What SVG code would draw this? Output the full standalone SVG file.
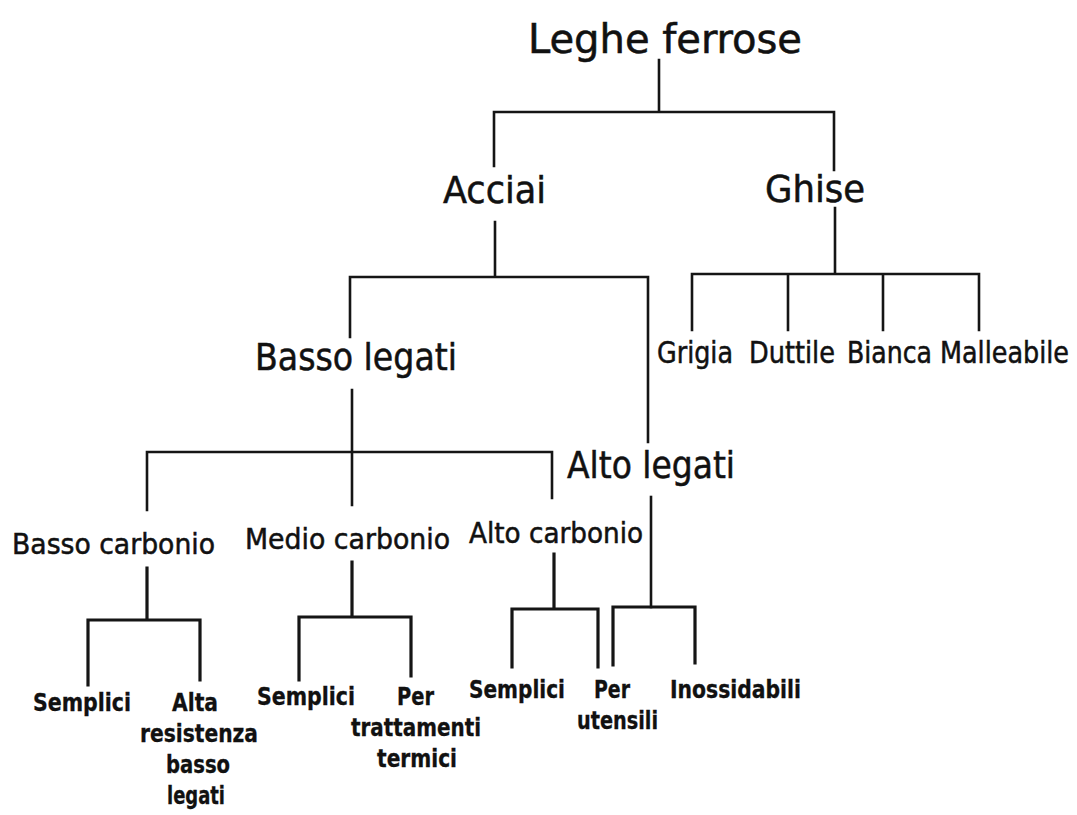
<svg xmlns="http://www.w3.org/2000/svg" width="1077" height="815" viewBox="0 0 1077 815">
<style>
text{font-family:"DejaVu Sans Condensed","DejaVu Sans",sans-serif;fill:#111;stroke:#111;stroke-width:0.5;}
.l1{font-size:40px;}
.l2{font-size:38px;}
.l3{font-size:30px;}
.l4{font-size:29px;}
.lf{font-size:24px;font-weight:bold;stroke-width:0.3;}
.c{fill:none;stroke:#151515;stroke-width:2.6;stroke-linecap:square;}
.c2{fill:none;stroke:#151515;stroke-width:3.2;stroke-linecap:square;}
</style>
<rect width="1077" height="815" fill="#ffffff"/>
<g id="connectors">
<path class="c" d="M659 60V112M494 112H834M494 112V166M834 112V170"/>
<path class="c" d="M495 222V276M350 277H648M350 277V337M648 277V442"/>
<path class="c" d="M835 208V274M692 274H979M692 274V330M788 274V330M883 274V330M979 274V330"/>
<path class="c" d="M352 390V505M147 452H552M147 452V510M552 452V498"/>
<path class="c2" d="M147 568V620M88 620H200M88 620V685M200 620V680"/>
<path class="c2" d="M352 562V617M299 617H411M299 617V680M411 617V676"/>
<path class="c2" d="M554 554V609M512 609H598M512 609V667M598 609V667"/>
<path class="c" d="M651 497V607"/>
<path class="c2" d="M613 607H695M613 607V665M695 607V663"/>
</g>
<g id="leghe-ferrose"><text class="l1" x="528" y="53" textLength="274" lengthAdjust="spacingAndGlyphs">Leghe ferrose</text></g>
<g id="acciai"><text class="l2" x="443" y="203" textLength="103" lengthAdjust="spacingAndGlyphs">Acciai</text></g>
<g id="ghise"><text class="l2" x="765" y="202" textLength="100" lengthAdjust="spacingAndGlyphs">Ghise</text></g>
<g id="basso-legati"><text class="l2" x="255" y="370" textLength="202" lengthAdjust="spacingAndGlyphs">Basso legati</text></g>
<g id="alto-legati"><text class="l2" x="567" y="478" textLength="168" lengthAdjust="spacingAndGlyphs">Alto legati</text></g>
<g id="grigia"><text class="l3" x="657" y="363" textLength="76" lengthAdjust="spacingAndGlyphs">Grigia</text></g>
<g id="duttile"><text class="l3" x="749" y="363" textLength="86" lengthAdjust="spacingAndGlyphs">Duttile</text></g>
<g id="bianca"><text class="l3" x="847" y="363" textLength="85" lengthAdjust="spacingAndGlyphs">Bianca</text></g>
<g id="malleabile"><text class="l3" x="940" y="363" textLength="129" lengthAdjust="spacingAndGlyphs">Malleabile</text></g>
<g id="basso-carbonio"><text class="l4" x="12" y="554" textLength="203" lengthAdjust="spacingAndGlyphs">Basso  carbonio</text></g>
<g id="medio-carbonio"><text class="l4" x="245" y="549" textLength="205" lengthAdjust="spacingAndGlyphs">Medio carbonio</text></g>
<g id="alto-carbonio"><text class="l4" x="469" y="543" textLength="174" lengthAdjust="spacingAndGlyphs">Alto carbonio</text></g>
<g id="semplici-1"><text class="lf" x="33" y="711" textLength="98" lengthAdjust="spacingAndGlyphs">Semplici</text></g>
<g id="alta-resistenza">
<text class="lf" x="172" y="711" textLength="46" lengthAdjust="spacingAndGlyphs">Alta</text>
<text class="lf" x="140" y="742" textLength="118" lengthAdjust="spacingAndGlyphs">resistenza</text>
<text class="lf" x="166" y="773" textLength="64" lengthAdjust="spacingAndGlyphs">basso</text>
<text class="lf" x="167" y="804" textLength="58" lengthAdjust="spacingAndGlyphs">legati</text>
</g>
<g id="semplici-2"><text class="lf" x="257" y="705" textLength="98" lengthAdjust="spacingAndGlyphs">Semplici</text></g>
<g id="per-trattamenti">
<text class="lf" x="397" y="705" textLength="37" lengthAdjust="spacingAndGlyphs">Per</text>
<text class="lf" x="351" y="736" textLength="130" lengthAdjust="spacingAndGlyphs">trattamenti</text>
<text class="lf" x="377" y="767" textLength="80" lengthAdjust="spacingAndGlyphs">termici</text>
</g>
<g id="semplici-3"><text class="lf" x="469" y="698" textLength="96" lengthAdjust="spacingAndGlyphs">Semplici</text></g>
<g id="per-utensili">
<text class="lf" x="594" y="698" textLength="36" lengthAdjust="spacingAndGlyphs">Per</text>
<text class="lf" x="577" y="729" textLength="81" lengthAdjust="spacingAndGlyphs">utensili</text>
</g>
<g id="inossidabili"><text class="lf" x="670" y="698" textLength="131" lengthAdjust="spacingAndGlyphs">Inossidabili</text></g>
</svg>
